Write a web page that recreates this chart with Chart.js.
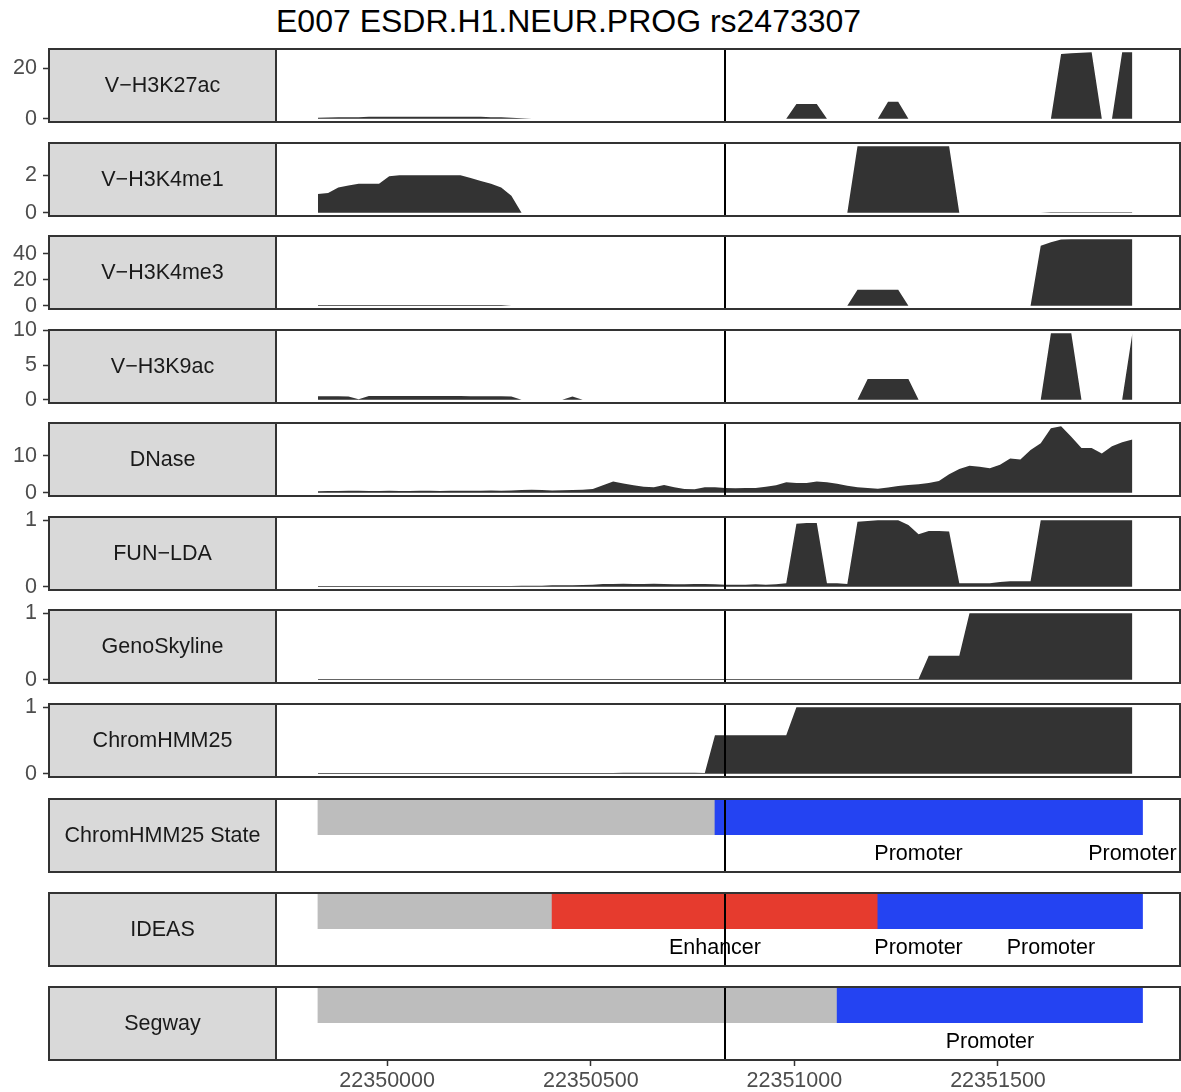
<!DOCTYPE html>
<html>
<head>
<meta charset="utf-8">
<script src="https://cdn.jsdelivr.net/npm/chart.js@4.4.0/dist/chart.umd.min.js"></script>
<style>
  body { margin: 0; background: #fff; width: 1181px; height: 1092px; position: relative; overflow: hidden; font-family: "Liberation Sans", Arial, sans-serif; }
  #title { position: absolute; left: 276px; top: 5px; font-size: 32px; line-height: 32px; color: #000; white-space: nowrap; }
  canvas { position: absolute; left: 0; }
</style>
</head>
<body>
<div id="title">E007 ESDR.H1.NEUR.PROG rs2473307</div>
<script>
// genomic bins (25 bp) around the SNP
const positions = [
  22349830, 22349855, 22349880, 22349905, 22349930, 22349955, 22349980, 22350005, 22350030, 22350055,
  22350080, 22350105, 22350130, 22350155, 22350180, 22350205, 22350230, 22350255, 22350280, 22350305,
  22350330, 22350355, 22350380, 22350405, 22350430, 22350455, 22350480, 22350505, 22350530, 22350555,
  22350580, 22350605, 22350630, 22350655, 22350680, 22350705, 22350730, 22350755, 22350780, 22350805,
  22350830, 22350855, 22350880, 22350905, 22350930, 22350955, 22350980, 22351005, 22351030, 22351055,
  22351080, 22351105, 22351130, 22351155, 22351180, 22351205, 22351230, 22351255, 22351280, 22351305,
  22351330, 22351355, 22351380, 22351405, 22351430, 22351455, 22351480, 22351505, 22351530, 22351555,
  22351580, 22351605, 22351630, 22351655, 22351680, 22351705, 22351730, 22351755, 22351780, 22351805,
  22351830
];
const snpPos = 22350830;
const xTickValues = [22350000, 22350500, 22351000, 22351500];

const h3k27ac = [
  0.4, 0.5, 0.6, 0.6, 0.6, 0.8, 0.8, 0.8, 0.8, 0.8,
  0.8, 0.8, 0.8, 0.8, 0.8, 0.8, 0.8, 0.6, 0.6, 0.4,
  0.2, 0, 0, 0, 0, 0, 0, 0, 0, 0,
  0, 0, 0, 0, 0, 0, 0, 0, 0, 0,
  0, 0, 0, 0, 0, 0, 0, 5.8, 5.8, 5.8,
  0, 0, 0, 0, 0, 0, 6.7, 6.7, 0, 0,
  0, 0, 0, 0, 0, 0, 0, 0, 0, 0,
  0, 0, 0, 25.5, 25.8, 26.0, 26.2, 0, 0, 26.2,
  26.2
];
const h3k4me1 = [
  1.0, 1.05, 1.35, 1.45, 1.55, 1.55, 1.55, 1.95, 2.0, 2.0,
  2.0, 2.0, 2.0, 2.0, 2.0, 1.85, 1.7, 1.55, 1.35, 0.9,
  0, 0, 0, 0, 0, 0, 0, 0, 0, 0,
  0, 0, 0, 0, 0, 0, 0, 0, 0, 0,
  0, 0, 0, 0, 0, 0, 0, 0, 0, 0,
  0, 0, 0, 3.55, 3.55, 3.55, 3.55, 3.55, 3.55, 3.55,
  3.55, 3.55, 3.55, 0, 0, 0, 0, 0, 0, 0,
  0, 0, 0.02, 0.02, 0.02, 0.02, 0.02, 0.02, 0.02, 0.02,
  0.02
];
const h3k4me3 = [
  0.5, 0.5, 0.5, 0.5, 0.5, 0.5, 0.5, 0.5, 0.5, 0.5,
  0.5, 0.5, 0.5, 0.5, 0.5, 0.5, 0.5, 0.5, 0.5, 0,
  0, 0, 0, 0, 0, 0, 0, 0, 0, 0,
  0, 0, 0, 0, 0, 0, 0, 0, 0, 0,
  0, 0, 0, 0, 0, 0, 0, 0, 0, 0,
  0, 0, 0, 12.3, 12.3, 12.3, 12.3, 12.3, 0, 0,
  0, 0, 0, 0, 0, 0, 0, 0, 0, 0,
  0, 46, 48.7, 50.8, 51, 51, 51, 51, 51, 51,
  51
];
const h3k9ac = [
  0.5, 0.5, 0.5, 0.45, 0.05, 0.55, 0.55, 0.55, 0.55, 0.55,
  0.55, 0.55, 0.55, 0.55, 0.55, 0.5, 0.5, 0.5, 0.5, 0.45,
  0, 0, 0, 0, 0, 0.45, 0, 0, 0, 0,
  0, 0, 0, 0, 0, 0, 0, 0, 0, 0,
  0, 0, 0, 0, 0, 0, 0, 0, 0, 0,
  0, 0, 0, 0, 3.0, 3.0, 3.0, 3.0, 3.0, 0,
  0, 0, 0, 0, 0, 0, 0, 0, 0, 0,
  0, 0, 9.6, 9.6, 9.6, 0, 0, 0, 0, 0,
  9.6
];
const dnase = [
  0.4, 0.45, 0.45, 0.5, 0.5, 0.45, 0.45, 0.5, 0.45, 0.45,
  0.5, 0.5, 0.45, 0.5, 0.55, 0.5, 0.55, 0.6, 0.55, 0.6,
  0.75, 0.8, 0.7, 0.6, 0.65, 0.7, 0.8, 1.0, 2.0, 3.0,
  2.5, 2.0, 1.6, 1.5, 2.1, 1.5, 1.0, 0.95, 1.5, 1.5,
  1.3, 1.2, 1.25, 1.3, 1.6, 2.0, 2.8, 2.6, 2.6, 3.0,
  2.8, 2.4, 1.9, 1.5, 1.3, 1.1, 1.4, 1.8, 2.1, 2.3,
  2.6, 3.2, 5.0, 6.4, 7.3, 7.0, 6.6, 7.6, 9.3, 9.0,
  11.6, 13.4, 17.5, 18.0, 15.2, 12.1, 12.1, 10.6, 12.6, 13.7,
  14.4
];
const funLda = [
  0.01, 0.01, 0.01, 0.01, 0.01, 0.01, 0.01, 0.01, 0.01, 0.01,
  0.01, 0.01, 0.01, 0.01, 0.01, 0.01, 0.01, 0.01, 0.01, 0.01,
  0.015, 0.015, 0.015, 0.02, 0.02, 0.02, 0.025, 0.03, 0.04, 0.04,
  0.045, 0.04, 0.04, 0.045, 0.04, 0.035, 0.035, 0.04, 0.04, 0.035,
  0.03, 0.03, 0.03, 0.035, 0.03, 0.035, 0.05, 0.95, 0.96, 0.96,
  0.05, 0.05, 0.04, 0.98, 0.99, 1.0, 1.0, 1.0, 0.93, 0.79,
  0.84, 0.84, 0.83, 0.05, 0.05, 0.05, 0.05, 0.07, 0.08, 0.08,
  0.08, 1, 1, 1, 1, 1, 1, 1, 1, 1,
  1
];
const genoSkyline = [
  0.012, 0.012, 0.012, 0.012, 0.012, 0.012, 0.012, 0.012, 0.012, 0.012,
  0.012, 0.012, 0.012, 0.012, 0.012, 0.012, 0.012, 0.012, 0.012, 0.012,
  0.012, 0.012, 0.012, 0.012, 0.012, 0.012, 0.012, 0.012, 0.012, 0.012,
  0.012, 0.012, 0.012, 0.012, 0.012, 0.012, 0.012, 0.012, 0.012, 0.012,
  0.012, 0.012, 0.012, 0.012, 0.012, 0.012, 0.012, 0.012, 0.012, 0.012,
  0.012, 0.012, 0.012, 0.012, 0.012, 0.012, 0.012, 0.012, 0.012, 0.012,
  0.36, 0.36, 0.36, 0.36, 1, 1, 1, 1, 1, 1,
  1, 1, 1, 1, 1, 1, 1, 1, 1, 1,
  1
];
const chromHmm25 = [
  0.01, 0.01, 0.01, 0.01, 0.01, 0.01, 0.01, 0.01, 0.01, 0.01,
  0.01, 0.01, 0.01, 0.01, 0.01, 0.01, 0.01, 0.01, 0.01, 0.01,
  0.01, 0.01, 0.01, 0.01, 0.01, 0.01, 0.01, 0.01, 0.01, 0.01,
  0.015, 0.015, 0.015, 0.015, 0.015, 0.015, 0.015, 0.015, 0.01, 0.58,
  0.58, 0.58, 0.58, 0.58, 0.58, 0.58, 0.58, 1, 1, 1,
  1, 1, 1, 1, 1, 1, 1, 1, 1, 1,
  1, 1, 1, 1, 1, 1, 1, 1, 1, 1,
  1, 1, 1, 1, 1, 1, 1, 1, 1, 1,
  1
];

const h3k27acTicks = [0, 20];
const h3k4me1Ticks = [0, 2];
const h3k4me3Ticks = [0, 20, 40];
const h3k9acTicks = [0, 5, 10];
const dnaseTicks = [0, 10];
const unitTicks = [0, 1];

// segmentation tracks
const stateStart = [22349830, 22350805];
const stateEnd = [22350805, 22351855];
const stateClass = ['other', 'promoter'];
const stateLabelPos = [22351305, 22351830];
const stateLabelText = ['Promoter', 'Promoter'];

const ideasStart = [22349830, 22350405, 22351205];
const ideasEnd = [22350405, 22351205, 22351855];
const ideasClass = ['other', 'enhancer', 'promoter'];
const ideasLabelPos = [22350805, 22351305, 22351630];
const ideasLabelText = ['Enhancer', 'Promoter', 'Promoter'];

const segwayStart = [22349830, 22351105];
const segwayEnd = [22351105, 22351855];
const segwayClass = ['other', 'promoter'];
const segwayLabelPos = [22351480];
const segwayLabelText = ['Promoter'];

// ---- layout / style ----
const X_MIN = 22349727, X_MAX = 22351947;
const PANEL_TOPS = [49, 143, 236, 330, 423, 517, 610, 704, 799, 893, 987];
const PANEL_H = 73;
const PLOT_LEFT = 276, STRIP_LEFT = 49, TICK_END = 43, PAD = 24, XAXIS_H = 33;
const FONT = '"Liberation Sans", Arial, sans-serif';
const DARK = '#333333';
const CLASS_COLORS = { other: '#bdbdbd', promoter: '#2443f2', enhancer: '#e63b2e' };

function makeCanvas(top, height) {
  const c = document.createElement('canvas');
  c.width = 1181;
  c.height = height;
  c.style.top = top + 'px';
  document.body.appendChild(c);
  return c;
}

function panelDecor(label, textPos, textLabels) {
  return {
    id: 'panelDecor',
    afterDraw(chart) {
      const ctx = chart.ctx, a = chart.chartArea;
      const xs = chart.scales.x;
      ctx.save();
      if (textPos) {
        const ty = chart.scales.y.getPixelForValue(1);
        ctx.fillStyle = '#000';
        ctx.font = '21.5px ' + FONT;
        ctx.textAlign = 'center';
        ctx.textBaseline = 'middle';
        textPos.forEach((p, i) => ctx.fillText(textLabels[i], xs.getPixelForValue(p), ty));
      }
      // SNP line
      const sx = Math.round(xs.getPixelForValue(snpPos));
      ctx.strokeStyle = '#000';
      ctx.lineWidth = 2;
      ctx.beginPath();
      ctx.moveTo(sx, a.top);
      ctx.lineTo(sx, a.bottom);
      ctx.stroke();
      // panel border
      ctx.strokeStyle = DARK;
      ctx.lineWidth = 2;
      ctx.strokeRect(a.left, a.top, a.right - a.left, a.bottom - a.top);
      // strip on the left
      ctx.fillStyle = '#d9d9d9';
      ctx.fillRect(STRIP_LEFT, a.top, a.left - STRIP_LEFT, a.bottom - a.top);
      ctx.strokeRect(STRIP_LEFT, a.top, a.left - STRIP_LEFT, a.bottom - a.top);
      ctx.fillStyle = '#1a1a1a';
      ctx.font = '21.5px ' + FONT;
      ctx.textAlign = 'center';
      ctx.textBaseline = 'middle';
      ctx.fillText(label, (STRIP_LEFT + a.left) / 2, (a.top + a.bottom) / 2 + 1);
      ctx.restore();
    }
  };
}

function areaTrack(idx, label, values, ticks) {
  const top = PANEL_TOPS[idx];
  const canvas = makeCanvas(top - PAD, PANEL_H + 2 * PAD);
  const m = Math.max(...values);
  new Chart(canvas, {
    type: 'line',
    data: {
      datasets: [{
        data: positions.map((p, i) => ({ x: p, y: values[i] })),
        fill: 'origin',
        backgroundColor: DARK,
        borderColor: 'transparent',
        borderWidth: 0,
        pointRadius: 0,
        tension: 0
      }]
    },
    options: {
      responsive: false,
      animation: false,
      events: [],
      layout: { padding: { top: PAD, bottom: PAD, left: 0, right: 1 } },
      plugins: { legend: { display: false }, tooltip: { enabled: false } },
      scales: {
        x: { type: 'linear', min: X_MIN, max: X_MAX, display: false },
        y: {
          type: 'linear',
          min: -0.05 * m,
          max: 1.05 * m,
          afterFit(s) { s.width = PLOT_LEFT; },
          afterBuildTicks(s) { s.ticks = ticks.map(v => ({ value: v })); },
          grid: { drawOnChartArea: false, drawTicks: true, tickLength: PLOT_LEFT - TICK_END, color: DARK, tickColor: DARK, tickWidth: 1.5 },
          border: { display: false },
          ticks: { padding: 6, color: '#4d4d4d', font: { size: 21.5, family: FONT }, callback: v => String(v) }
        }
      }
    },
    plugins: [panelDecor(label)]
  });
}

function segmentTrack(idx, label, starts, ends, classes, labelPos, labelText, withAxis) {
  const top = PANEL_TOPS[idx];
  const canvas = makeCanvas(top - PAD, PANEL_H + PAD + (withAxis ? XAXIS_H : PAD));
  new Chart(canvas, {
    type: 'bar',
    data: {
      labels: ['bar', 'label'],
      datasets: [{
        data: starts.map((s, i) => ({ x: [s, ends[i]], y: 'bar' })),
        backgroundColor: classes.map(c => CLASS_COLORS[c]),
        borderWidth: 0,
        barThickness: 35
      }]
    },
    options: {
      indexAxis: 'y',
      responsive: false,
      animation: false,
      events: [],
      layout: { padding: { top: PAD, bottom: withAxis ? 0 : PAD, left: PLOT_LEFT, right: 1 } },
      plugins: { legend: { display: false }, tooltip: { enabled: false } },
      scales: {
        y: { type: 'category', labels: ['bar', 'label'], offset: true, display: false },
        x: withAxis ? {
          type: 'linear', min: X_MIN, max: X_MAX, position: 'bottom',
          afterFit(s) { s.height = XAXIS_H; },
          afterBuildTicks(s) { s.ticks = xTickValues.map(v => ({ value: v })); },
          grid: { drawOnChartArea: false, tickLength: 6, color: DARK, tickColor: DARK, tickWidth: 1.5 },
          border: { display: false },
          ticks: { padding: 2, maxRotation: 0, autoSkip: false, color: '#4d4d4d', font: { size: 21.5, family: FONT }, callback: v => String(v) }
        } : { type: 'linear', min: X_MIN, max: X_MAX, display: false }
      }
    },
    plugins: [panelDecor(label, labelPos, labelText)]
  });
}

areaTrack(0, 'V\u2212H3K27ac', h3k27ac, h3k27acTicks);
areaTrack(1, 'V\u2212H3K4me1', h3k4me1, h3k4me1Ticks);
areaTrack(2, 'V\u2212H3K4me3', h3k4me3, h3k4me3Ticks);
areaTrack(3, 'V\u2212H3K9ac', h3k9ac, h3k9acTicks);
areaTrack(4, 'DNase', dnase, dnaseTicks);
areaTrack(5, 'FUN\u2212LDA', funLda, unitTicks);
areaTrack(6, 'GenoSkyline', genoSkyline, unitTicks);
areaTrack(7, 'ChromHMM25', chromHmm25, unitTicks);
segmentTrack(8, 'ChromHMM25 State', stateStart, stateEnd, stateClass, stateLabelPos, stateLabelText, false);
segmentTrack(9, 'IDEAS', ideasStart, ideasEnd, ideasClass, ideasLabelPos, ideasLabelText, false);
segmentTrack(10, 'Segway', segwayStart, segwayEnd, segwayClass, segwayLabelPos, segwayLabelText, true);
</script>
</body>
</html>
